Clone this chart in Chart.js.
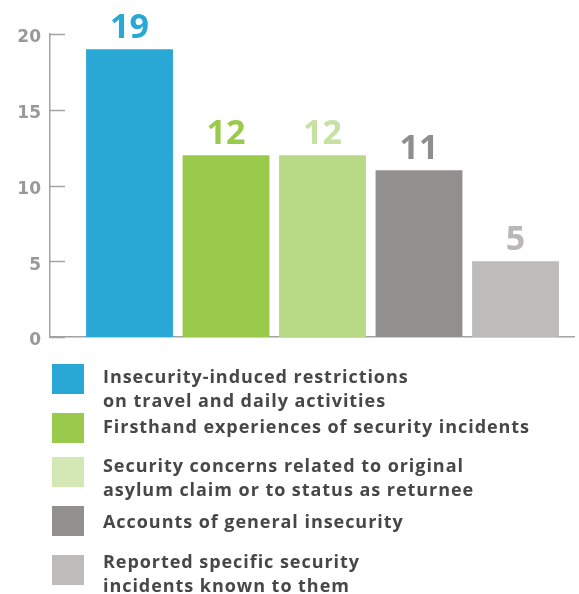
<!DOCTYPE html>
<html>
<head>
<meta charset="utf-8">
<script src="https://cdn.jsdelivr.net/npm/chart.js@4.4.1/dist/chart.umd.min.js"></script>
<style>
  html, body { margin: 0; padding: 0; background: #fff; }
  #wrap { position: relative; width: 579px; height: 594px; overflow: hidden; }
  #c { position: absolute; left: 0; top: 0; }
  #legend { position: absolute; left: 0; top: 0; width: 579px; height: 594px; }
  .item { position: absolute; left: 52px; }
  .sw { position: absolute; left: 0; top: 0; width: 32px; height: 30px; }
  .tx { position: absolute; left: 51px; white-space: nowrap;
        font-family: "Open Sans", Lato, sans-serif; font-weight: 700; font-size: 18px;
        letter-spacing: 0.95px; line-height: 24px; color: #474747; }
</style>
</head>
<body>
<div id="wrap">
  <canvas id="c" width="579" height="594"></canvas>
  <div id="legend"></div>
</div>
<script>
const categories = [
  "Insecurity-induced restrictions on travel and daily activities",
  "Firsthand experiences of security incidents",
  "Security concerns related to original asylum claim or to status as returnee",
  "Accounts of general insecurity",
  "Reported specific security incidents known to them"
];
const legendLines = [
  ["Insecurity-induced restrictions", "on travel and daily activities"],
  ["Firsthand experiences of security incidents"],
  ["Security concerns related to original", "asylum claim or to status as returnee"],
  ["Accounts of general insecurity"],
  ["Reported specific security", "incidents known to them"]
];
const values = [19, 12, 12, 11, 5];
const yTicks = [0, 5, 10, 15, 20];
const barColors = ["#29a8d6", "#9aca4c", "#b8da87", "#928f8f", "#bdbcbb"];
const legendColors = ["#29a8d6", "#9aca4c", "#d4e8b6", "#928f8f", "#bdbcbb"];
const valueLabelColors = ["#29a8d6", "#9aca4c", "#c6e1a2", "#8f8d8d", "#b9b8b7"];

// Legend (HTML) - layout
(function buildLegend() {
  const legendEl = document.getElementById('legend');
  const rowTops = [364, 413, 457, 506, 555];
  const textShift = [0, 1, -4, 3, -6];
  legendLines.forEach((lines, i) => {
    const item = document.createElement('div');
    item.className = 'item';
    item.style.top = rowTops[i] + 'px';
    const sw = document.createElement('div');
    sw.className = 'sw';
    sw.style.background = legendColors[i];
    const tx = document.createElement('div');
    tx.className = 'tx';
    tx.style.top = textShift[i] + 'px';
    tx.innerHTML = lines.join('<br>');
    item.appendChild(sw);
    item.appendChild(tx);
    legendEl.appendChild(item);
  });
})();

const AXIS_COLOR = '#a3a3a3';

const innerTicks = {
  id: 'innerTicks',
  afterDraw(chart) {
    const { ctx, chartArea, scales: { y } } = chart;
    ctx.save();
    ctx.strokeStyle = AXIS_COLOR;
    ctx.lineWidth = 1.5;
    y.ticks.forEach(t => {
      const py = Math.round(y.getPixelForValue(t.value)) + 0.5;
      ctx.beginPath();
      ctx.moveTo(chartArea.left, py);
      ctx.lineTo(chartArea.left + 15, py);
      ctx.stroke();
    });
    ctx.restore();
  }
};

const valueLabels = {
  id: 'valueLabels',
  afterDatasetsDraw(chart) {
    const { ctx } = chart;
    const meta = chart.getDatasetMeta(0);
    ctx.save();
    ctx.font = 'bold 34px "Open Sans", Lato, sans-serif';
    ctx.textAlign = 'center';
    ctx.textBaseline = 'alphabetic';
    meta.data.forEach((bar, i) => {
      ctx.fillStyle = valueLabelColors[i];
      ctx.fillText(String(values[i]), bar.x, bar.y - 11);
    });
    ctx.restore();
  }
};

function draw() {
  new Chart(document.getElementById('c'), {
    type: 'bar',
    data: {
      datasets: [{
        label: 'Count',
        data: values.map((v, i) => ({ x: i, y: v })),
        backgroundColor: barColors,
        borderWidth: 0,
        barPercentage: 0.9,
        categoryPercentage: 1.0
      }]
    },
    options: {
      responsive: false,
      animation: false,
      devicePixelRatio: 1,
      layout: { padding: { top: 34, right: 5, bottom: 257, left: 0 } },
      plugins: { legend: { display: false }, tooltip: { enabled: false } },
      scales: {
        x: {
          type: 'linear',
          offset: false,
          min: -0.824,
          max: 4.606,
          afterBuildTicks: s => { s.ticks = values.map((v, i) => ({ value: i })); },
          grid: { display: false, offset: false },
          ticks: { display: false },
          border: { display: true, color: AXIS_COLOR, width: 1.5 },
          afterFit: s => { s.height = 0; }
        },
        y: {
          min: 0,
          max: 20,
          afterBuildTicks: s => { s.ticks = yTicks.map(v => ({ value: v })); },
          grid: { display: false },
          border: { display: true, color: AXIS_COLOR, width: 1.5 },
          ticks: {
            padding: 1,
            labelOffset: 4,
            color: '#9a9898',
            font: { family: '"DejaVu Sans"', weight: 'bold', size: 17 }
          },
          afterFit: s => { s.width = 50; }
        }
      }
    },
    plugins: [innerTicks, valueLabels]
  });
}

if (document.fonts && document.fonts.load) {
  Promise.all([
    document.fonts.load('bold 18px "Open Sans"'),
    document.fonts.load('bold 34px "Open Sans"'),
    document.fonts.load('bold 17px "DejaVu Sans"')
  ]).then(draw, draw);
} else {
  draw();
}
</script>
</body>
</html>
